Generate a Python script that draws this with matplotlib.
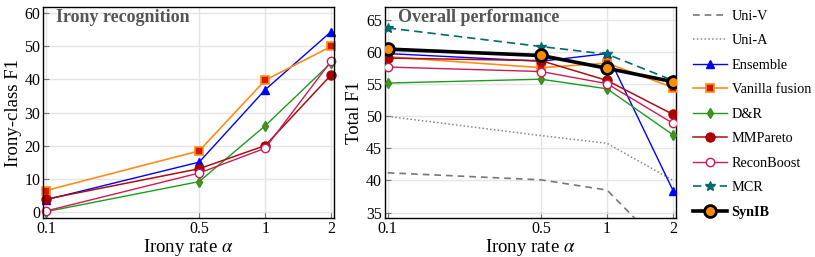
"""
Irony recognition / overall performance vs irony rate
"""
import matplotlib
matplotlib.use("Agg")
import matplotlib.pyplot as plt

plt.rcParams['font.family'] = ['Liberation Serif', 'DejaVu Serif']
plt.rcParams['mathtext.fontset'] = 'stix'

# x values (irony rate alpha)
rates = [0.1, 0.5, 1, 2]
rate_labels = ['0.1', '0.5', '1', '2']

# left panel: irony-class F1
irony_ensemble = [3.6, 15.0, 36.9, 54.5]
irony_vanilla = [6.4, 18.4, 39.8, 50.0]
irony_dr = [0.0, 9.1, 26.0, 45.1]
irony_mmpareto = [3.8, 13.0, 20.0, 41.4]
irony_reconboost = [0.2, 11.7, 19.2, 45.6]

# right panel: total F1
total_univ = [41.2, 40.1, 38.5, 28.0]
total_unia = [50.0, 47.0, 45.8, 40.0]
total_ensemble = [59.8, 58.6, 59.8, 38.4]
total_vanilla = [59.3, 57.6, 58.3, 54.5]
total_dr = [55.2, 55.8, 54.3, 47.1]
total_mmpareto = [59.1, 58.7, 55.6, 50.3]
total_reconboost = [57.7, 57.0, 55.1, 48.9]
total_mcr = [63.8, 60.9, 59.7, 55.6]
total_synib = [60.5, 59.5, 57.5, 55.4]

# line styles per method
styles = {
    'Uni-V': dict(color='#777777', ls=(0, (4, 3)), lw=1.2),
    'Uni-A': dict(color='#888888', ls=(0, (1, 1.5)), lw=1.1),
    'Ensemble': dict(color='#0000ff', lw=1.0, marker='^', ms=6,
                     mfc='#0000ff', mec='#0000ff'),
    'Vanilla fusion': dict(color='#ff8c1a', lw=1.2, marker='s', ms=6,
                           mfc='#d41a00', mec='#ff8c1a', mew=1.2),
    'D&R': dict(color='#1e9a1e', lw=1.0, marker='d', ms=5,
                mfc='#6b7f1f', mec='#1e9a1e'),
    'MMPareto': dict(color='#aa1010', lw=1.1, marker='o', ms=6.5,
                     mfc='#aa0000', mec='#aa0000'),
    'ReconBoost': dict(color='#cc1a55', lw=1.0, marker='o', ms=6,
                       mfc='white', mec='#cc1a55', mew=1.0),
    'MCR': dict(color='#006b6b', ls=(0, (5, 3)), lw=1.2, marker='*', ms=7,
                mfc='#006b6b', mec='#006b6b'),
    'SynIB': dict(color='black', lw=2.6, marker='o', ms=8.5,
                  mfc='#ff8c00', mec='black', mew=2.0),
}


def style_axis(ax, ylim, yticks, title):
    ax.set_xscale('log')
    ax.set_xlim(0.0972, 2.06)
    ax.set_xticks(rates)
    ax.set_xticklabels(rate_labels)
    ax.minorticks_off()
    ax.set_ylim(*ylim)
    ax.set_yticks(yticks)
    ax.grid(True, color='#e5e5e5', lw=1.0)
    ax.set_axisbelow(True)
    ax.tick_params(direction='in', length=4, color='#777777',
                   labelsize=11.5, pad=2)
    for s in ax.spines.values():
        s.set_linewidth(1.0)
        s.set_color('black')
    ax.set_xlabel(r'Irony rate $\alpha$', fontsize=13.5, labelpad=0)
    ax.text(0.045, 0.99, title, transform=ax.transAxes, ha='left',
            va='top', fontsize=13, fontweight='bold', color='#555555')


fig = plt.figure(figsize=(8.15, 2.57), dpi=100)
ax1 = fig.add_axes([0.0531, 0.1506, 0.3567, 0.823])
ax2 = fig.add_axes([0.4724, 0.1506, 0.357, 0.823])

# left panel
left_series = [
    ('Ensemble', irony_ensemble),
    ('Vanilla fusion', irony_vanilla),
    ('D&R', irony_dr),
    ('MMPareto', irony_mmpareto),
    ('ReconBoost', irony_reconboost),
]
for name, vals in left_series:
    ax1.plot(rates, vals, **styles[name], clip_on=False)
style_axis(ax1, (-2, 62), [0, 10, 20, 30, 40, 50, 60], 'Irony recognition')
ax1.set_ylabel('Irony-class F1', fontsize=13.5, labelpad=2)

# right panel
right_series = [
    ('Uni-V', total_univ),
    ('Uni-A', total_unia),
    ('Ensemble', total_ensemble),
    ('Vanilla fusion', total_vanilla),
    ('D&R', total_dr),
    ('MMPareto', total_mmpareto),
    ('ReconBoost', total_reconboost),
    ('MCR', total_mcr),
    ('SynIB', total_synib),
]
handles = []
for name, vals in right_series:
    z = 5 if name == 'SynIB' else 3
    line, = ax2.plot(rates, vals, label=name, zorder=z, **styles[name])
    handles.append(line)
style_axis(ax2, (34.1, 67.1), [35, 40, 45, 50, 55, 60, 65],
           'Overall performance')
ax2.set_ylabel('Total F1', fontsize=13.5, labelpad=2)

leg = fig.legend(handles=handles, loc='upper left',
                 bbox_to_anchor=(0.838, 1.0), frameon=False, fontsize=10.3,
                 handlelength=2.4, handletextpad=0.3, labelspacing=0.8,
                 borderaxespad=0.3)
for t in leg.get_texts():
    if t.get_text() == 'SynIB':
        t.set_fontweight('bold')

fig.savefig('out.png', dpi=100)
